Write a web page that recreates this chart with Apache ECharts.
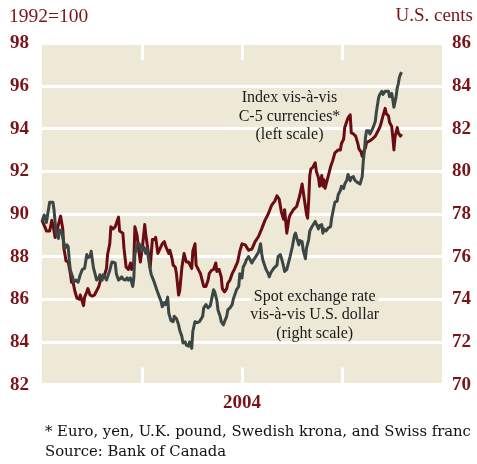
<!DOCTYPE html>
<html>
<head>
<meta charset="utf-8">
<script src="https://cdn.jsdelivr.net/npm/echarts@6.0.0/dist/echarts.min.js"></script>
<style>
    html, body { margin: 0; padding: 0; background: #fff; }
    #demo { width: 477px; height: 464px; }
</style>
</head>
<body>
<div id="demo"></div>
<script>
    // day of year 2004 (0 = Jan 1), value
    // C-5 index, 1992=100 (left scale)
    const indexData = [
        [0, 89.7], [3, 89.35], [4, 89.2], [7, 89.2], [9, 89.7], [10, 89.5], [12, 88.9], [13, 88.85], [16, 89.7], [17, 89.9],
        [19, 89.3], [20, 88.4], [22, 87.8], [24, 87.75], [26, 87.2], [27, 86.8], [28, 86.9], [30, 86.4], [32, 86.05], [34, 86.0],
        [35, 86.2], [38, 85.7], [39, 86.1], [41, 86.35], [42, 86.5], [44, 86.2], [46, 86.15], [48, 86.2], [50, 86.4], [52, 86.6],
        [54, 87.0], [57, 87.1], [59, 87.45], [60, 88.1], [62, 88.6], [63, 89.4], [65, 89.3], [67, 89.4], [69, 89.7], [70, 89.85],
        [71, 89.2], [74, 89.1], [75, 88.4], [77, 87.5], [79, 87.4], [81, 87.7], [82, 87.4], [84, 87.75], [85, 89.4], [87, 89.0],
        [88, 88.5], [90, 87.75], [92, 88.5], [94, 89.5], [95, 89.0], [97, 88.3], [99, 87.5], [101, 88.8], [103, 88.8], [104, 88.9],
        [106, 88.15], [110, 88.6], [112, 88.7], [113, 88.5], [116, 88.15], [117, 88.3], [119, 87.9], [120, 87.6], [122, 87.5], [123, 87.2],
        [125, 86.2], [126, 86.4], [128, 87.5], [130, 88.15], [132, 87.75], [134, 87.75], [135, 87.8], [137, 87.45], [138, 88.25], [140, 88.6],
        [141, 87.6], [143, 87.4], [145, 87.2], [146, 87.0], [148, 86.6], [150, 86.6], [152, 86.9], [153, 87.2], [155, 87.35], [157, 87.4],
        [159, 87.7], [160, 87.3], [162, 87.4], [164, 87.05], [165, 86.5], [167, 86.35], [169, 86.5], [170, 86.75], [172, 86.9], [174, 87.2],
        [176, 87.4], [179, 87.75], [181, 88.25], [183, 88.6], [186, 88.55], [189, 88.3], [192, 88.35], [195, 88.7], [198, 88.93], [201, 89.3],
        [204, 89.7], [207, 90.0], [210, 90.4], [213, 90.6], [215, 90.85], [217, 90.7], [219, 90.1], [221, 89.75], [222, 90.2], [224, 89.1],
        [226, 89.8], [227, 89.95], [230, 90.2], [233, 90.35], [236, 90.9], [238, 91.4], [240, 90.7], [242, 90.0], [243, 89.8], [244, 90.6],
        [245, 91.8], [246, 92.1], [248, 92.2], [250, 92.4], [251, 92.0], [253, 91.7], [254, 91.3], [256, 91.8], [257, 91.3], [258, 91.6],
        [259, 91.2], [261, 91.6], [263, 92.0], [264, 92.2], [266, 92.5], [268, 92.86], [269, 92.9], [271, 93.0], [273, 93.0], [274, 93.3],
        [276, 93.5], [277, 94.05], [279, 94.36], [280, 94.5], [282, 94.65], [283, 93.8], [284, 93.8], [285, 93.75], [287, 93.65], [289, 93.3],
        [290, 93.05], [292, 92.9], [293, 92.7], [294, 92.9], [296, 93.1], [297, 93.35], [299, 93.4], [300, 93.35], [302, 93.5], [303, 93.45],
        [305, 93.65], [306, 93.6], [309, 94.05], [310, 94.2], [312, 94.6], [314, 94.95], [315, 94.7], [317, 94.6], [318, 94.3], [319, 94.35],
        [320, 94.1], [321, 93.6], [322, 93.0], [323, 93.6], [325, 94.05], [326, 93.8], [328, 93.65], [329, 93.75]
    ];
    // spot rate, U.S. cents per Canadian dollar (right scale)
    const spotData = [
        [0, 77.65], [2, 77.95], [4, 77.6], [5, 77.6], [7, 78.55], [10, 78.55], [11, 78.2], [12, 77.6], [13, 77.1], [15, 76.85],
        [16, 77.25], [18, 77.2], [19, 76.9], [21, 76.4], [23, 76.55], [24, 76.45], [25, 75.8], [26, 75.35], [28, 75.05], [29, 74.8],
        [31, 74.9], [33, 74.8], [35, 75.15], [37, 75.4], [39, 75.45], [41, 76.1], [42, 75.95], [44, 76.0], [45, 76.25], [47, 75.5],
        [48, 75.3], [50, 74.9], [52, 75.0], [53, 75.15], [55, 74.9], [56, 75.15], [59, 74.9], [60, 75.05], [62, 75.35], [64, 75.75],
        [65, 75.75], [67, 75.7], [68, 75.2], [70, 74.9], [71, 74.9], [73, 75.05], [74, 74.95], [76, 74.9], [78, 75.0], [79, 74.9],
        [81, 75.0], [83, 74.6], [84, 75.0], [85, 76.1], [87, 76.55], [89, 76.6], [91, 76.25], [93, 76.45], [95, 76.15], [96, 76.4],
        [99, 75.4], [100, 75.15], [102, 74.9], [103, 74.75], [105, 74.45], [106, 74.3], [109, 73.9], [110, 73.65], [112, 73.85], [113, 73.75],
        [115, 74.1], [116, 73.35], [118, 73.0], [120, 72.95], [121, 73.2], [123, 73.1], [125, 72.8], [126, 72.55], [128, 72.25], [129, 71.95],
        [131, 72.0], [132, 71.85], [134, 71.8], [135, 72.0], [137, 71.7], [138, 72.5], [140, 72.95], [142, 72.9], [144, 72.95], [145, 73.0],
        [147, 73.2], [148, 73.6], [150, 73.75], [152, 73.6], [154, 73.7], [155, 73.95], [157, 74.45], [158, 74.35], [160, 73.95], [161, 73.5],
        [163, 73.2], [164, 72.95], [166, 72.8], [167, 72.95], [169, 73.2], [170, 73.5], [172, 73.6], [174, 73.75], [175, 74.0], [177, 74.3],
        [178, 74.45], [180, 74.6], [181, 75.2], [183, 75.0], [184, 75.5], [186, 75.7], [187, 75.85], [189, 76.0], [190, 75.9], [192, 75.7],
        [193, 75.8], [195, 75.95], [196, 76.0], [198, 76.2], [200, 76.6], [201, 76.15], [202, 75.85], [204, 75.55], [205, 75.4], [207, 75.2],
        [208, 75.05], [209, 75.2], [210, 75.3], [212, 75.45], [213, 75.4], [215, 75.6], [216, 76.0], [218, 76.1], [219, 75.95], [221, 75.55],
        [222, 75.3], [224, 75.4], [225, 75.6], [227, 76.0], [229, 76.45], [231, 77.0], [232, 77.1], [233, 76.9], [235, 76.55], [236, 76.75],
        [238, 76.7], [239, 76.3], [241, 75.9], [242, 76.4], [244, 76.8], [245, 77.2], [247, 77.4], [250, 77.65], [251, 77.6], [253, 77.3],
        [254, 77.45], [256, 77.5], [257, 77.1], [258, 77.3], [260, 77.2], [262, 77.35], [264, 77.4], [265, 77.8], [267, 78.3], [268, 78.55],
        [270, 78.6], [271, 78.9], [273, 79.1], [274, 79.3], [276, 79.2], [277, 79.4], [279, 79.6], [280, 79.85], [282, 79.55], [283, 79.7],
        [285, 79.75], [286, 79.6], [288, 79.5], [289, 79.45], [291, 79.4], [293, 79.75], [294, 80.5], [295, 80.95], [296, 81.6], [297, 81.9],
        [299, 81.9], [300, 81.75], [302, 81.95], [303, 82.05], [305, 82.35], [306, 82.8], [308, 83.45], [309, 83.6], [311, 83.75], [312, 83.6],
        [314, 83.75], [315, 83.7], [317, 83.75], [318, 83.5], [320, 83.65], [321, 83.35], [322, 83.0], [324, 83.5], [325, 83.9], [326, 84.1],
        [327, 84.4], [328, 84.55], [329, 84.65]
    ];
    // quarter boundaries (Apr 1, Jul 1, Oct 1)
    const quarterTicks = [91.5, 183, 274.5];
    const yearLabel = '2004';
    const leftTitle = '1992=100';
    const rightTitle = 'U.S. cents';
    const indexLabel = 'Index vis-à-vis\nC-5 currencies*\n(left scale)';
    const spotLabel = '{top|Spot exchange rate}\nvis-à-vis U.S. dollar\n(right scale)';
    const footnote = '* Euro, yen, U.K. pound, Swedish krona, and Swiss franc\nSource: Bank of Canada';

    const maroon = '#7a1418';
    const beige = '#eee9d7';
    const serif = '"Liberation Serif", serif';

    const myChart = echarts.init(document.getElementById('demo'));
    var option;

    option = {
        animation: false,
        title: [
            {
                text: leftTitle,
                left: 9,
                top: 7,
                padding: 0,
                textStyle: { color: maroon, fontFamily: serif, fontSize: 19.5, fontWeight: 'normal' },
            },
            {
                text: rightTitle,
                right: 4,
                top: 7,
                padding: 0,
                textStyle: { color: maroon, fontFamily: serif, fontSize: 19, fontWeight: 'normal' },
            },
            {
                text: footnote,
                left: 45,
                top: 422,
                padding: 0,
                textStyle: { color: '#111', fontFamily: '"DejaVu Serif", serif', fontSize: 14.8, fontWeight: 'normal', lineHeight: 20 },
            },
        ],
        grid: {
            left: 42,
            right: 35,
            top: 43.3,
            bottom: 79.4,
            show: true,
            backgroundColor: beige,
            borderWidth: 0,
        },
        xAxis: [
            {
                type: 'value',
                min: 0,
                max: 366,
                position: 'bottom',
                name: yearLabel,
                nameLocation: 'middle',
                nameGap: 9,
                nameTextStyle: { color: maroon, fontFamily: serif, fontSize: 19, fontWeight: 'bold', verticalAlign: 'top' },
                axisLine: { show: false },
                axisLabel: { show: false },
                splitLine: { show: false },
                axisTick: {
                    show: true,
                    inside: true,
                    length: 17,
                    customValues: quarterTicks,
                    lineStyle: { color: '#fff', width: 3 },
                },
            },
            {
                type: 'value',
                min: 0,
                max: 366,
                position: 'top',
                axisLine: { show: false },
                axisLabel: { show: false },
                splitLine: { show: false },
                axisTick: {
                    show: true,
                    inside: true,
                    length: 17,
                    customValues: quarterTicks,
                    lineStyle: { color: '#fff', width: 3 },
                },
            },
        ],
        yAxis: [
            {
                type: 'value',
                min: 82,
                max: 98,
                interval: 2,
                position: 'left',
                axisLine: { show: false },
                axisTick: { show: false },
                axisLabel: { color: maroon, fontFamily: serif, fontSize: 19, fontWeight: 'bold', margin: 13 },
                splitLine: { show: true, lineStyle: { color: '#fff', width: 3 } },
            },
            {
                type: 'value',
                min: 70,
                max: 86,
                interval: 2,
                position: 'right',
                axisLine: { show: false },
                axisTick: { show: false },
                axisLabel: { color: maroon, fontFamily: serif, fontSize: 19, fontWeight: 'bold', margin: 10 },
                splitLine: { show: false },
            },
        ],
        graphic: [
            {
                type: 'text',
                x: 289.5,
                y: 116.5,
                z: 1,
                style: { text: indexLabel, fill: '#1a1a1a', font: '16px "Liberation Serif"', align: 'center', verticalAlign: 'middle', lineHeight: 18.5 },
            },
            {
                type: 'text',
                x: 314.7,
                y: 315,
                z: 1,
                style: {
                    text: spotLabel,
                    fill: '#1a1a1a',
                    font: '16px "Liberation Serif"',
                    align: 'center',
                    verticalAlign: 'middle',
                    lineHeight: 18.3,
                    rich: {
                        top: { backgroundColor: beige, padding: [0, 3], lineHeight: 18.3 },
                    },
                },
            },
        ],
        series: [
            {
                name: 'C-5 index',
                type: 'line',
                xAxisIndex: 0,
                yAxisIndex: 0,
                z: 3,
                showSymbol: false,
                lineStyle: { color: '#6a0c12', width: 3, join: 'round' },
                data: indexData,
            },
            {
                name: 'Spot rate',
                type: 'line',
                xAxisIndex: 0,
                yAxisIndex: 1,
                z: 4,
                showSymbol: false,
                lineStyle: { color: '#3b4745', width: 3, join: 'round' },
                data: spotData,
            },
        ],
    };

    option && myChart.setOption(option);
</script>
</body>
</html>
